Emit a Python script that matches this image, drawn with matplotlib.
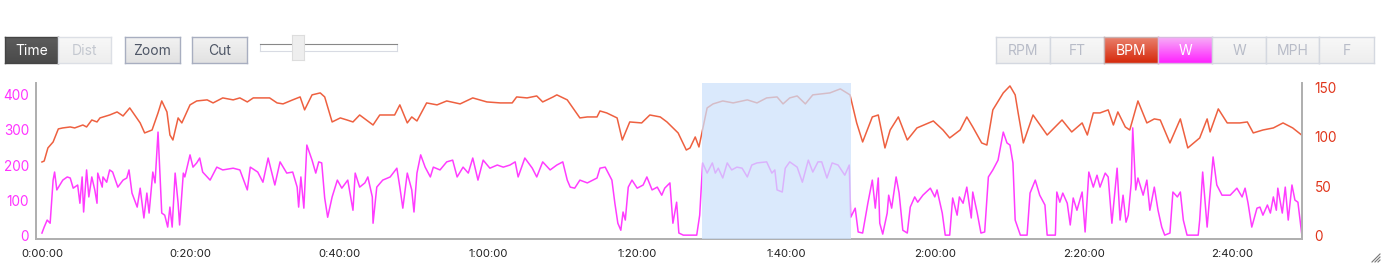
import numpy as np
import matplotlib.pyplot as plt
from matplotlib.lines import Line2D

plt.rcParams['font.family'] = ['Inter', 'DejaVu Sans']

# heart rate (bpm) against elapsed minutes
hr_min = [0.0, 0.3, 0.8, 1.5, 2.2, 2.8, 3.8, 4.4, 5.5, 6.0, 6.7, 7.4, 7.8, 9.1, 10.1, 10.9, 11.8,
          13.2, 13.8, 14.8, 15.6, 16.1, 16.8, 17.2, 17.6, 18.3, 18.8, 19.9, 20.8, 22.2, 23.0, 24.3,
          25.7, 26.6, 27.6, 28.4, 29.7, 30.6, 31.6, 32.4, 33.7, 34.7, 35.3, 36.3, 37.4, 38.0, 39.0,
          40.1, 41.0, 41.8, 42.7, 44.5, 45.4, 47.4, 48.1, 49.1, 49.7, 50.4, 51.7, 53.1, 54.4, 56.2,
          57.9, 59.8, 61.6, 63.2, 63.8, 65.2, 66.5, 67.3, 68.7, 69.2, 70.6, 72.3, 73.3, 74.6, 75.0,
          75.9, 77.3, 78.0, 79.0, 80.6, 81.7, 83.1, 84.0, 85.5, 86.6, 87.1, 87.8, 88.3, 89.4, 90.2,
          91.5, 92.9, 94.8, 96.1, 97.4, 98.8, 99.6, 100.5, 101.5, 102.6, 103.6, 105.9, 107.3, 108.6,
          109.5, 110.3, 111.6, 112.4, 113.3, 114.0, 115.1, 116.3, 117.6, 119.8, 121.1, 122.0, 123.4,
          124.3, 125.1, 126.3, 127.0, 127.8, 129.2, 130.1, 130.8, 131.2, 131.9, 133.2, 135.1, 137.1,
          138.4, 139.8, 140.5, 141.3, 142.2, 143.3, 144.0, 144.6, 145.6, 146.2, 147.3, 148.5, 149.5,
          150.3, 151.6, 153.0, 154.0, 155.6, 156.6, 157.0, 158.1, 159.3, 161.0, 162.0, 162.8, 164.1,
          165.5, 166.8, 168.1, 169.3]
hr_bpm = [74.5, 75.5, 88.8, 94.9, 108.2, 109.2, 110.2, 109.2, 112.2, 110.2, 117.3, 115.3, 119.4,
          122.4, 125.5, 121.4, 129.6, 114.3, 104.1, 107.1, 124.5, 136.7, 125.5, 102.0, 96.9, 119.4,
          114.3, 132.7, 136.7, 137.8, 134.7, 139.8, 137.8, 139.8, 135.7, 139.8, 139.8, 139.8, 134.7,
          133.7, 137.8, 140.8, 127.6, 142.9, 144.9, 140.8, 115.3, 119.4, 117.3, 115.3, 122.4, 112.2,
          122.4, 122.4, 132.7, 114.3, 120.4, 116.3, 134.7, 132.7, 136.7, 133.7, 139.8, 135.7, 134.7,
          134.7, 140.8, 139.8, 141.8, 135.7, 140.8, 142.9, 137.8, 119.4, 120.4, 120.4, 126.5, 124.5,
          119.4, 96.9, 115.3, 114.3, 122.4, 120.4, 115.3, 104.1, 86.7, 88.8, 100.0, 89.8, 129.6,
          133.7, 136.7, 134.7, 137.8, 134.7, 139.8, 140.8, 133.7, 139.8, 141.8, 133.7, 142.9, 144.9,
          149.0, 142.9, 114.3, 94.9, 120.4, 122.4, 88.8, 107.1, 120.4, 96.9, 109.2, 116.3, 107.1,
          99.0, 107.1, 120.4, 110.2, 93.9, 91.8, 127.6, 144.9, 152.0, 142.9, 124.5, 93.9, 122.4,
          102.0, 117.3, 105.1, 114.3, 102.0, 124.5, 124.5, 127.6, 112.2, 125.5, 110.2, 107.1, 136.7,
          114.3, 118.4, 117.3, 93.9, 118.4, 88.8, 99.0, 118.4, 105.1, 128.6, 114.3, 114.3, 115.3,
          104.1, 107.1, 109.2, 114.3, 109.2, 102.0]

# power (W) against elapsed minutes
pw_min = [0.0, 0.3, 0.7, 1.1, 1.5, 1.7, 2.0, 2.4, 2.8, 3.4, 3.8, 4.2, 4.8, 5.1, 5.4, 5.6, 6.0, 6.3,
          6.7, 7.1, 7.4, 7.5, 8.1, 8.2, 8.7, 9.1, 9.5, 10.2, 10.9, 11.4, 11.7, 12.1, 12.8, 13.2, 13.7,
          14.1, 14.4, 14.9, 15.2, 15.6, 16.1, 16.5, 16.9, 17.2, 17.5, 17.9, 18.3, 18.5, 19.0, 19.2,
          19.9, 20.3, 20.8, 21.2, 21.6, 22.6, 23.5, 24.3, 25.7, 26.6, 27.6, 28.0, 29.0, 29.7, 30.4,
          31.3, 32.0, 32.9, 33.7, 34.3, 34.5, 34.8, 35.2, 35.6, 36.3, 36.8, 37.2, 37.6, 38.0, 38.4,
          39.0, 39.7, 40.3, 41.1, 41.8, 42.1, 42.7, 43.4, 43.8, 44.4, 44.5, 45.0, 45.8, 46.8, 47.7,
          48.1, 48.5, 49.1, 49.7, 50.0, 50.4, 50.9, 51.5, 52.2, 52.6, 53.5, 54.4, 55.2, 55.8, 56.6,
          57.3, 57.9, 58.6, 59.3, 60.2, 61.2, 62.0, 62.9, 63.6, 64.0, 64.9, 65.9, 66.5, 67.3, 68.3,
          69.2, 70.0, 70.6, 71.0, 71.6, 72.3, 73.3, 74.6, 75.0, 75.7, 76.6, 77.0, 77.4, 77.8, 78.1,
          78.4, 78.8, 79.3, 80.0, 80.8, 81.3, 82.0, 82.7, 83.3, 83.7, 84.4, 84.8, 85.3, 85.6, 86.2,
          88.0, 88.4, 88.8, 89.4, 90.1, 90.5, 90.9, 91.5, 92.1, 92.7, 93.4, 94.1, 94.8, 95.4, 96.1,
          97.4, 98.1, 98.5, 98.8, 99.5, 99.9, 100.5, 101.5, 102.2, 103.0, 103.6, 104.3, 104.8, 105.5,
          106.2, 107.0, 107.9, 108.5, 108.7, 109.3, 109.7, 110.3, 111.0, 111.6, 112.0, 112.4, 112.6,
          113.0, 113.6, 113.8, 114.2, 114.8, 115.2, 115.7, 116.3, 116.7, 117.3, 117.7, 118.4, 119.4,
          120.0, 120.3, 121.0, 121.4, 122.0, 122.4, 123.0, 123.3, 123.8, 124.3, 124.9, 125.1, 125.7,
          126.2, 126.7, 127.2, 127.8, 128.5, 129.2, 129.7, 130.1, 130.5, 130.8, 131.5, 132.4, 132.8,
          133.5, 134.1, 134.8, 135.1, 136.2, 136.4, 136.8, 137.2, 137.8, 138.2, 138.6, 139.1, 139.8,
          140.2, 140.7, 141.3, 141.8, 142.2, 142.9, 143.3, 143.8, 144.5, 144.9, 145.3, 145.7, 146.0,
          146.4, 146.6, 147.0, 147.3, 148.0, 148.5, 148.9, 149.5, 150.0, 150.5, 150.9, 151.6, 152.0,
          152.6, 153.0, 153.4, 153.9, 155.4, 155.6, 156.0, 156.6, 157.4, 157.9, 158.6, 159.7, 160.6,
          161.3, 161.7, 162.1, 162.6, 163.3, 163.7, 164.1, 164.7, 165.1, 165.5, 165.9, 166.1, 166.7,
          167.1, 167.5, 168.0, 168.4, 168.8, 169.3]
pw_watt = [6, 23, 43, 34, 157, 180, 129, 143, 157, 166, 163, 134, 143, 91, 166, 66, 186, 109, 166,
           129, 91, 177, 137, 166, 151, 186, 180, 137, 157, 163, 186, 120, 80, 134, 49, 120, 63, 180,
           149, 294, 63, 57, 23, 80, 23, 177, 91, 29, 177, 166, 229, 194, 206, 220, 180, 157, 194,
           186, 191, 186, 129, 194, 180, 151, 220, 143, 209, 177, 180, 137, 80, 166, 77, 257, 214,
           177, 209, 206, 106, 51, 109, 157, 134, 157, 71, 177, 137, 149, 166, 109, 34, 137, 157,
           166, 191, 137, 77, 177, 129, 66, 177, 229, 194, 166, 194, 186, 209, 214, 166, 194, 177,
           220, 157, 214, 191, 200, 194, 200, 209, 166, 220, 191, 166, 209, 186, 200, 209, 157, 137,
           134, 157, 149, 163, 191, 194, 157, 91, 34, 14, 66, 43, 137, 157, 134, 143, 166, 129, 137,
           114, 134, 149, 34, 94, 6, 0, 0, 57, 206, 177, 206, 177, 191, 163, 206, 186, 194, 191, 166,
           200, 206, 209, 177, 186, 129, 123, 191, 209, 194, 151, 214, 180, 209, 209, 163, 206, 200,
           171, 200, 51, 77, 9, 6, 91, 157, 77, 163, 34, 3, 63, 114, 77, 166, 120, 14, 6, 80, 109,
           94, 114, 134, 109, 129, 63, 0, 0, 106, 57, 109, 91, 137, 49, 123, 63, 6, 9, 166, 186, 214,
           294, 263, 257, 206, 43, 0, 0, 120, 157, 114, 86, 0, 0, 123, 94, 120, 91, 29, 106, 71, 123,
           9, 180, 137, 171, 137, 177, 166, 34, 191, 43, 114, 37, 57, 149, 306, 129, 163, 114, 157,
           71, 137, 71, 23, 0, 6, 123, 109, 123, 43, 0, 0, 43, 180, 23, 223, 143, 114, 114, 134, 109,
           134, 91, 23, 77, 80, 57, 86, 63, 109, 71, 134, 63, 137, 43, 143, 100, 94, 6]

selection = (88.7, 108.7)   # highlighted interval, minutes
x_ticks = [0, 20, 40, 60, 80, 100, 120, 140, 160]
x_labels = ['0:00:00', '0:20:00', '0:40:00', '1:00:00', '1:20:00', '1:40:00',
            '2:00:00', '2:20:00', '2:40:00']
w_ticks = [0, 100, 200, 300, 400]
bpm_ticks = [0, 50, 100, 150]

W, H = 1394, 267
fig = plt.figure(figsize=(W / 100, H / 100), dpi=100)


def fig_rect(x0, y0, x1, y1):
    return [x0 / W, 1 - y1 / H, (x1 - x0) / W, (y1 - y0) / H]


def button(x0, y0, x1, y1, top, bottom, edge, label, tcolor):
    b = fig.add_axes(fig_rect(x0, y0, x1, y1))
    c0 = np.array(plt.matplotlib.colors.to_rgb(top))
    c1 = np.array(plt.matplotlib.colors.to_rgb(bottom))
    g = np.linspace(0, 1, 30)[:, None, None]
    img = c0[None, None, :] * (1 - g) + c1[None, None, :] * g
    b.imshow(np.repeat(img, 2, axis=1), aspect='auto', extent=[0, 1, 0, 1])
    b.set_xticks([])
    b.set_yticks([])
    for s in b.spines.values():
        s.set_color(edge)
        s.set_linewidth(1)
    b.text(0.5, 0.47, label, ha='center', va='center', fontsize=10, color=tcolor)


# left controls
button(5, 37, 58, 63, '#5c5c5c', '#4a4a4a', '#444444', 'Time', 'white')
button(58, 37, 111, 63, '#f8f8f8', '#eeeeee', '#dcdfe5', 'Dist', '#c4c8d0')
button(125, 37, 180, 63, '#f2f2f2', '#e2e2e2', '#a8aec0', 'Zoom', '#4e5666')
button(192, 37, 247, 63, '#f2f2f2', '#e2e2e2', '#a8aec0', 'Cut', '#4e5666')
track = fig.add_axes(fig_rect(260, 44, 397, 51))
track.set_xticks([])
track.set_yticks([])
for k, s in track.spines.items():
    s.set_color('#888888' if k == 'top' else '#d8dbe3')
thumb = fig.add_axes(fig_rect(292, 35, 304, 60))
thumb.set_facecolor('#eeeeee')
thumb.set_xticks([])
thumb.set_yticks([])
for s in thumb.spines.values():
    s.set_color('#dddddd')

# right channel buttons
edges = [996, 1050, 1104, 1158, 1212, 1266, 1319, 1374]
names = ['RPM', 'FT', 'BPM', 'W', 'W', 'MPH', 'F']
for i, name in enumerate(names):
    if i == 2:
        button(edges[i], 37, edges[i + 1], 63, '#e9806c', '#d62a0c', '#c8b0b0', name, 'white')
    elif i == 3:
        button(edges[i], 37, edges[i + 1], 63, '#f7aef7', '#ff22ff', '#d8b8e0', name, 'white')
    else:
        button(edges[i], 37, edges[i + 1], 63, '#f8f8f8', '#eeeeee', '#d4d8e0', name, '#b8bcc8')

# chart
ax = fig.add_axes(fig_rect(36, 83, 1302, 239))
ax2 = ax.twinx()
ax.plot(pw_min, pw_watt, color='#ff3cff', lw=1.1, zorder=2, solid_joinstyle='round')
ax2.plot(hr_min, hr_bpm, color='#ee6040', lw=1.1, zorder=2, solid_joinstyle='round')
ax2.axvspan(selection[0], selection[1], color='#cce1fc', alpha=0.72, lw=0, zorder=5)

ax.set_xlim(-0.8, 169.35)
ax.set_ylim(-11, 434)
ax2.set_ylim(-4, 155)
ax.set_xticks(x_ticks)
ax.set_xticklabels(x_labels)
ax.set_yticks(w_ticks)
ax2.set_yticks(bpm_ticks)
ax.tick_params(axis='x', length=0, pad=7, labelsize=8.2, labelcolor='#222222')
ax.tick_params(axis='y', length=0, pad=5, labelsize=9.8, labelcolor='#ff33ff')
ax2.tick_params(axis='y', length=0, pad=9, labelsize=9.8, labelcolor='#e0341a')
for a in (ax, ax2):
    a.spines['top'].set_visible(False)
    for k in ('left', 'right', 'bottom'):
        a.spines[k].set_color('#b0b0b0')
        a.spines[k].set_linewidth(1.3)
ax2.patch.set_visible(False)

# resize grip
for d in (0, 3, 6):
    fig.add_artist(Line2D([(1372 + d) / W, 1380 / W], [1 - 262 / H, 1 - (262 - 8 + d) / H],
                          color='#777777', lw=0.8))

fig.savefig('out.png', dpi=100)
